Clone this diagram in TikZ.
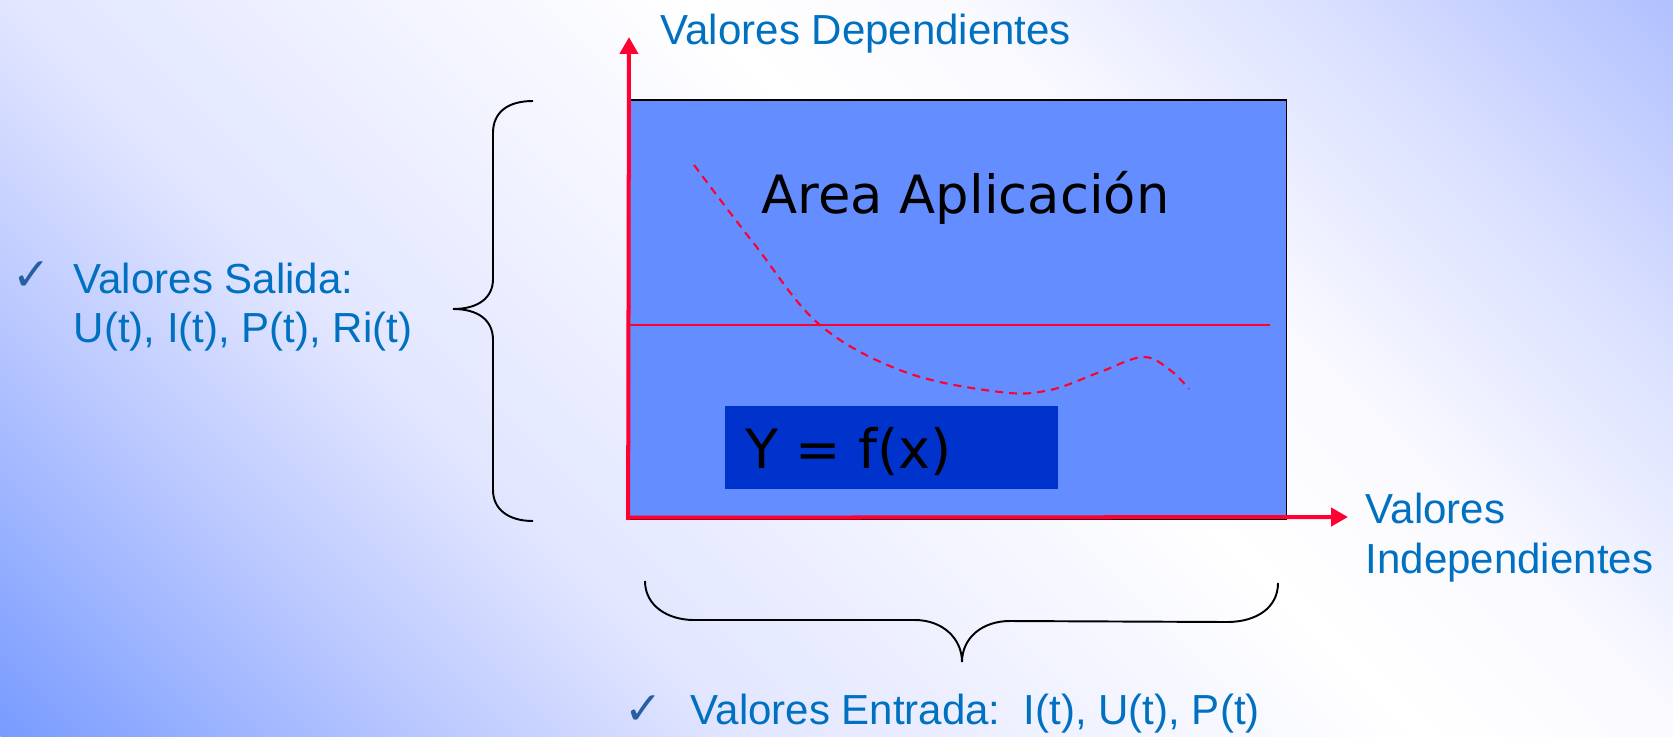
\documentclass[tikz,border=0pt]{standalone}
\usepackage{fontspec}
\setmainfont{Liberation Sans}
\newfontfamily\dejavu{DejaVu Sans}
\usetikzlibrary{arrows.meta, positioning}

\definecolor{txtblue}{RGB}{0,112,192}
\definecolor{chkblue}{RGB}{40,95,160}
\definecolor{boxblue}{RGB}{100,142,255}
\definecolor{darkbox}{RGB}{0,51,204}
\definecolor{axisred}{RGB}{255,0,51}
\definecolor{bgA}{RGB}{120,155,255}
\definecolor{bgB}{RGB}{186,200,255}
\definecolor{bgC}{RGB}{226,230,255}
\definecolor{bgD}{RGB}{250,250,255}
\definecolor{bgE}{RGB}{218,224,255}
\definecolor{bgF}{RGB}{176,192,255}
% the visible part of a fitted shading runs from 25bp to 75bp
\pgfdeclarehorizontalshading{slidebg}{100bp}{color(0bp)=(bgA); color(25bp)=(bgA);
  color(34bp)=(bgB); color(40.5bp)=(bgC); color(54.5bp)=(white); color(60bp)=(bgD);
  color(67.5bp)=(bgE); color(75bp)=(bgF); color(100bp)=(bgF)}

\begin{document}
\begin{tikzpicture}[x=0.01cm, y=-0.01cm,
      lbl/.style={text=txtblue, font=\fontsize{11.95}{14}\selectfont, inner sep=0, anchor=base west},
      chk/.style={text=chkblue, font=\dejavu\fontsize{13}{15}\selectfont, inner sep=0, anchor=base west},
      big/.style={font=\dejavu\fontsize{15}{18}\selectfont, inner sep=0, anchor=base west},
      axis/.style={draw=axisred, line width=1.14pt, -{Triangle[length=4.8pt, width=5.1pt]}},
      curly/.style={draw=black, line width=0.55pt}]

    % slide background (45 degree gradient)
    \useasboundingbox (0,0) rectangle (1673,736);
    \begin{scope}
      \clip (0,0) rectangle (1673,736);
      \begin{scope}[transform canvas={rotate around={45:(0,736)}}]
        \shade[shading=slidebg] (0,216) rectangle (1703.4,1919);
      \end{scope}
    \end{scope}

    % application area
    \node[draw=black, line width=0.4pt, fill=boxblue, inner sep=0,
          minimum width=6.57cm, minimum height=4.19cm] (area) at (957.5,309.5) {};
    \draw[axisred, line width=0.55pt] (629,325) -- (1270,325);
    \draw[axisred, line width=0.6pt, dash pattern=on 2.3pt off 1.7pt]
      plot[smooth, tension=0.6] coordinates {(694,165) (755,245) (820,325) (905,372)
        (1000,392) (1050,390) (1100,372) (1143,357) (1170,370) (1189,389)};
    \node[big] (areat) at (761,213) {Area Aplicación};
    \node[fill=darkbox, inner sep=0, minimum width=3.33cm, minimum height=0.83cm]
      (fbox) at (891.5,447.5) {};
    \node[big, font=\dejavu\fontsize{15.4}{18}\selectfont] (yfx) at (745,468) {Y = f(x)};

    % axes
    \coordinate (ytip) at (629,37);
    \coordinate (xtip) at (1348,517);
    \draw[axis] (area.south west) -- (ytip);
    \draw[axis] ([yshift=0.6pt]area.south west) -- (xtip);
    \node[lbl] (dep) at (660,44) {Valores Dependientes};
    \node[lbl] (ind1) at (1365,523) {Valores};
    \node[lbl] (ind2) at (1365,573) {Independientes};

    % braces
    \draw[curly] (533,101) .. controls (508,101) and (493,112) .. (493,133) -- (493,279)
      .. controls (493,298) and (478,309) .. (453,309)
      .. controls (478,309) and (493,320) .. (493,340) -- (493,490)
      .. controls (493,509) and (508,521) .. (533,521);
    \draw[curly] (645,581) .. controls (645,606) and (668,620) .. (694,620) -- (915,620)
      .. controls (942,620) and (962,638) .. (962,662)
      .. controls (962,638) and (982,621) .. (1010,621) -- (1227,622)
      .. controls (1256,622) and (1278,608) .. (1278,583);

    % outputs and inputs
    \node[chk] (chk1) at (12,290) {✓};
    \node[lbl] (sal1) at (73,293) {Valores Salida:};
    \node[lbl] (sal2) at (73,342) {U(t), I(t), P(t), Ri(t)};
    \node[chk] (chk2) at (624,724) {✓};
    \node[lbl] (ent) at (690,724) {Valores Entrada:\ \ I(t), U(t), P(t)};

\end{tikzpicture}
\end{document}
